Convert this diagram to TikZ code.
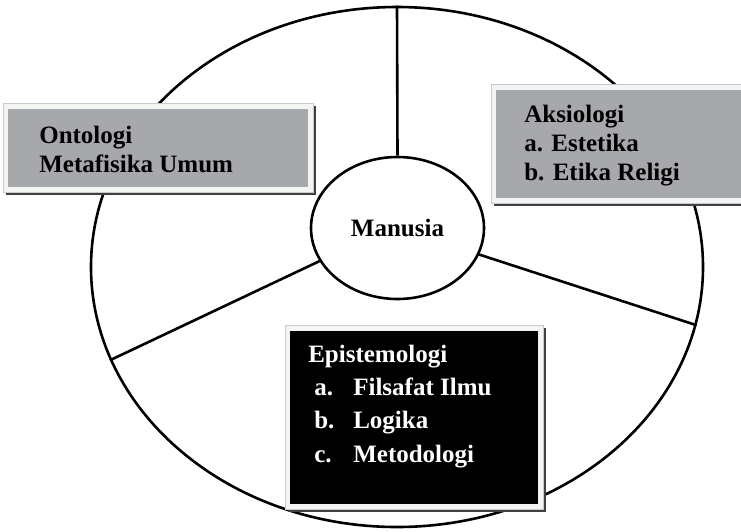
\documentclass[tikz,border=0pt]{standalone}
\usepackage{fontspec}
\setmainfont{Liberation Serif}
\usetikzlibrary{shapes.geometric}

\begin{document}
\begin{tikzpicture}[x=1pt, y=-1pt, line width=2.6pt,
  txt/.style={anchor=base west, inner sep=0pt, font=\fontsize{25}{29}\selectfont\bfseries},
  frame/.style={fill=cF, draw=cE, line width=0.6pt}]
\definecolor{cG}{RGB}{167,168,172}
\definecolor{cF}{RGB}{243,245,243}
\definecolor{cE}{RGB}{200,202,200}
\definecolor{cS}{RGB}{64,64,64}
\useasboundingbox (0,0) rectangle (741,531);

% wheel
\node[ellipse, draw, minimum width=612, minimum height=520] (rim) at (397,267) {};
\node[ellipse, draw, fill=white, minimum width=173, minimum height=142,
  font=\fontsize{25}{29}\selectfont\bfseries] (man) at (397.5,228) {Manusia};
\draw (man.north) -- (rim.north);
\draw (man.203) -- (rim.198.5);
\draw (man.-18) -- (rim.-11.5);

% boxes
\foreach \bx/\by/\ex/\ey/\col in {3/103/313/192/cG, 491/84/760/203/cG, 285/325/543/509/black}{
  \fill[cS] (\bx+3,\by+3) rectangle (\ex+3,\ey+3);
  \filldraw[frame] (\bx,\by) rectangle (\ex,\ey);
  \fill[\col] (\bx+5,\by+6) rectangle (\ex-5,\ey-5);
}

\foreach \i/\y/\t in {1/143/Ontologi, 2/172/Metafisika Umum}
  \node[txt] (ont\i) at (38,\y) {\t};
\foreach \i/\y/\t in {1/122/Aksiologi, 2/151/a. Estetika, 3/180/b. Etika Religi}
  \node[txt] (aks\i) at (523,\y) {\t};
\node[txt, text=white] (epi) at (307,362) {Epistemologi};
\foreach \i/\y/\l/\t in {1/395/a./Filsafat Ilmu, 2/428/b./Logika, 3/462/c./Metodologi}{
  \node[txt, text=white] (epl\i) at (313,\y) {\l};
  \node[txt, text=white] (ept\i) at (352,\y) {\t};
}
\end{tikzpicture}
\end{document}
